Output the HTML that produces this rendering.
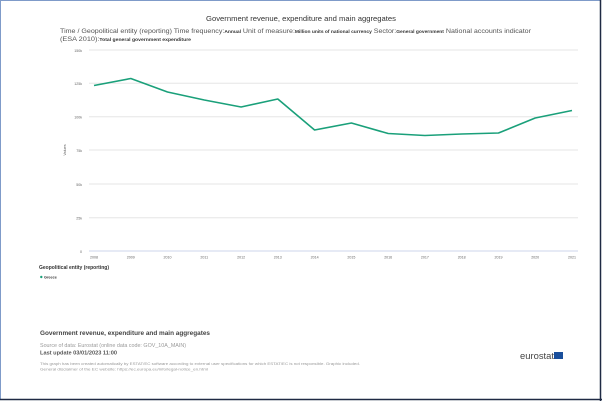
<!DOCTYPE html>
<html><head><meta charset="utf-8"><style>
body{margin:0;width:602px;height:401px;overflow:hidden;background:#fff;font-family:"Liberation Sans",sans-serif;}
</style></head><body>
<svg width="602" height="401" xmlns="http://www.w3.org/2000/svg" font-family="Liberation Sans, sans-serif">
<rect x="0" y="0" width="602" height="401" fill="#fff"/>
<rect x="0.5" y="0.5" width="600" height="399" fill="none" stroke="#7f9bc9" stroke-width="1"/>
<line x1="600.5" y1="0" x2="600.5" y2="401" stroke="#1f2a44" stroke-width="1.5"/>
<line x1="0" y1="399.5" x2="602" y2="399.5" stroke="#1f2a44" stroke-width="1.5"/>
<text x="206" y="21" font-size="7.5" fill="#333" textLength="190" lengthAdjust="spacingAndGlyphs">Government revenue, expenditure and main aggregates</text>
<text x="60" y="33" font-size="6.5" fill="#555" textLength="471" lengthAdjust="spacingAndGlyphs">Time / Geopolitical entity (reporting)  Time frequency:<tspan font-weight="bold" font-size="4.5" fill="#333">Annual</tspan>  Unit of measure:<tspan font-weight="bold" font-size="4.5" fill="#333">Million units of national currency</tspan>  Sector:<tspan font-weight="bold" font-size="4.5" fill="#333">General government</tspan>  National accounts indicator</text>
<text x="60" y="41" font-size="6.5" fill="#555" textLength="131" lengthAdjust="spacingAndGlyphs">(ESA 2010):<tspan font-weight="bold" font-size="4.5" fill="#333">Total general government expenditure</tspan></text>
<g stroke="#e6e6e6" stroke-width="1">
<line x1="89" y1="50" x2="578" y2="50"/><line x1="89" y1="83.3" x2="578" y2="83.3"/><line x1="89" y1="116.7" x2="578" y2="116.7"/><line x1="89" y1="150" x2="578" y2="150"/><line x1="89" y1="184" x2="578" y2="184"/><line x1="89" y1="217.7" x2="578" y2="217.7"/>
</g>
<line x1="89" y1="251" x2="578" y2="251" stroke="#ccd6eb" stroke-width="1"/>
<g font-size="3.6" fill="#666" text-anchor="end">
<text x="82" y="52">150k</text><text x="82" y="85">125k</text><text x="82" y="118.5">100k</text><text x="82" y="152">75k</text><text x="82" y="186">50k</text><text x="82" y="219.5">25k</text><text x="82" y="253">0</text>
</g>
<text transform="translate(66,150) rotate(-90)" font-size="3.8" fill="#666" text-anchor="middle">Values</text>
<g font-size="3.6" fill="#666" text-anchor="middle">
<text x="94" y="258.5">2008</text><text x="130.8" y="258.5">2009</text><text x="167.5" y="258.5">2010</text><text x="204.3" y="258.5">2011</text><text x="241.1" y="258.5">2012</text><text x="277.8" y="258.5">2013</text><text x="314.6" y="258.5">2014</text><text x="351.4" y="258.5">2015</text><text x="388.2" y="258.5">2016</text><text x="424.9" y="258.5">2017</text><text x="461.7" y="258.5">2018</text><text x="498.5" y="258.5">2019</text><text x="535.2" y="258.5">2020</text><text x="572" y="258.5">2021</text>
</g>
<polyline fill="none" stroke="#1aa07a" stroke-width="1.6" stroke-linejoin="round" points="94,85.5 130.8,78.5 167.5,92 204.3,100 241.1,107 277.8,99 314.6,130 351.4,123 388.2,133.5 424.9,135.5 461.7,134 498.5,133 535.2,118 572,110.5"/>
<text x="39" y="269" font-size="5" font-weight="bold" fill="#333">Geopolitical entity (reporting)</text>
<circle cx="41.3" cy="277" r="1.2" fill="#1aa07a"/>
<text x="44" y="278.5" font-size="3.8" font-weight="bold" fill="#333">Greece</text>
<text x="40" y="335" font-size="6.2" font-weight="bold" fill="#444" textLength="170" lengthAdjust="spacingAndGlyphs">Government revenue, expenditure and main aggregates</text>
<text x="40" y="347" font-size="5" fill="#999" textLength="146" lengthAdjust="spacingAndGlyphs">Source of data: Eurostat (online data code: GOV_10A_MAIN)</text>
<text x="40" y="354.5" font-size="5" font-weight="bold" fill="#555" textLength="77" lengthAdjust="spacingAndGlyphs">Last update 03/01/2023 11:00</text>
<text x="40" y="365" font-size="3.6" fill="#999" textLength="320" lengthAdjust="spacingAndGlyphs">This graph has been created automatically by ESTAT/EC software according to external user specifications for which ESTAT/EC is not responsible. Graphic included.</text>
<text x="40" y="370.5" font-size="3.6" fill="#999" textLength="168" lengthAdjust="spacingAndGlyphs">General disclaimer of the EC website: https://ec.europa.eu/info/legal-notice_en.html</text>
<text x="520" y="359" font-size="9" fill="#444" textLength="34" lengthAdjust="spacingAndGlyphs">eurostat</text>
<rect x="554" y="352" width="9" height="7" fill="#1a4f9c"/>
</svg>
</body></html>
